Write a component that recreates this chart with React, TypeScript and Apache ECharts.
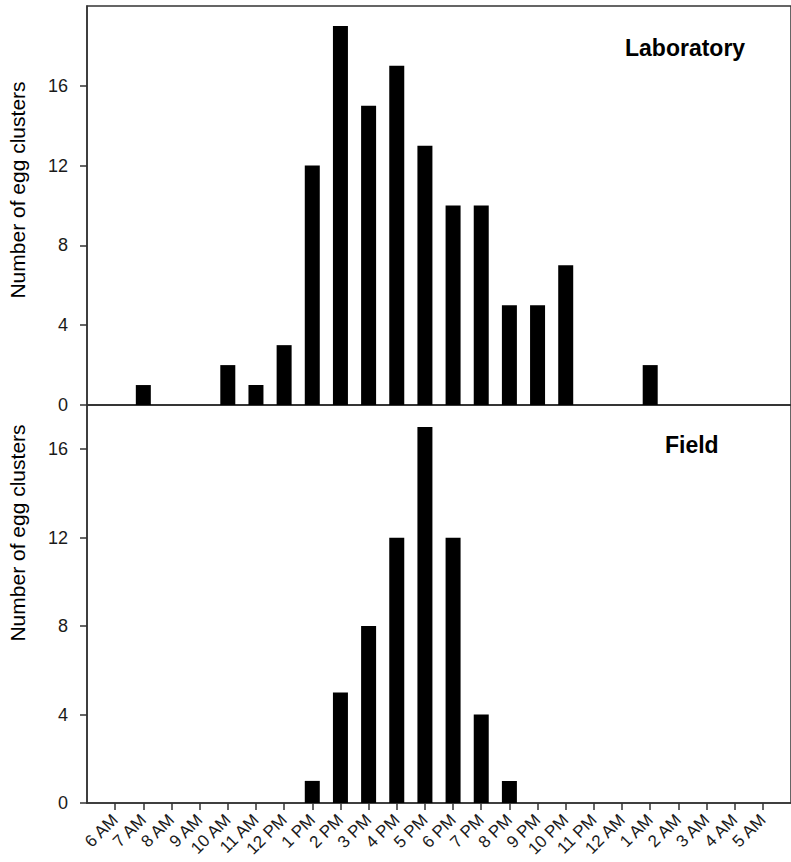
import React, { useEffect, useRef } from "react";
import * as echarts from "echarts";

const hours = [
  "6 AM", "7 AM", "8 AM", "9 AM", "10 AM", "11 AM", "12 PM", "1 PM", "2 PM", "3 PM",
  "4 PM", "5 PM", "6 PM", "7 PM", "8 PM", "9 PM", "10 PM", "11 PM", "12 AM", "1 AM",
  "2 AM", "3 AM", "4 AM", "5 AM",
];
const laboratory = [0, 1, 0, 0, 2, 1, 3, 12, 19, 15, 17, 13, 10, 10, 5, 5, 7, 0, 0, 2, 0, 0, 0, 0];
const field = [0, 0, 0, 0, 0, 0, 0, 1, 5, 8, 12, 17, 12, 4, 1, 0, 0, 0, 0, 0, 0, 0, 0, 0];
const yTicks = [0, 4, 8, 12, 16];
const yTitle = "Number of egg clusters";

const FONT = "'Liberation Sans', Arial, Helvetica, sans-serif";
const LINE = "#333333";
const TEXT = "#1a1a1a";

export default function App() {
  const ref = useRef<HTMLDivElement>(null);
  useEffect(() => {
    if (!ref.current) return;
    const chart = echarts.init(ref.current, undefined, { renderer: "svg" });
    const idx = hours.map((_, i) => i);
    const yAxisBase = (gridIndex: number, max: number) => ({
      type: "value",
      gridIndex,
      min: 0,
      max,
      interval: 4,
      axisLine: { show: true, onZero: false, lineStyle: { color: LINE, width: 1.5 } },
      axisTick: { show: true, length: 7, inside: false, customValues: yTicks, lineStyle: { color: LINE, width: 1.5 } },
      axisLabel: { customValues: yTicks, margin: 19, fontSize: 18, color: TEXT, fontFamily: FONT },
      splitLine: { show: false },
    });
    chart.setOption({
      animation: false,
      backgroundColor: "#ffffff",
      grid: [
        { left: 87, top: 6, height: 399, right: -10, show: true, borderColor: LINE, borderWidth: 1.5, backgroundColor: "transparent" },
        { left: 87, top: 405, height: 398, right: -10, show: true, borderColor: LINE, borderWidth: 1.5, backgroundColor: "transparent" },
      ],
      xAxis: [
        {
          type: "value", gridIndex: 0, min: -1, max: 24, interval: 1,
          axisLine: { show: true, onZero: false, lineStyle: { color: LINE, width: 1.5 } },
          axisTick: { show: false }, axisLabel: { show: false }, splitLine: { show: false },
        },
        {
          type: "value", gridIndex: 1, min: -1, max: 24, interval: 1,
          axisLine: { show: true, onZero: false, lineStyle: { color: LINE, width: 1.5 } },
          axisTick: { show: true, length: 7, customValues: idx, lineStyle: { color: LINE, width: 1.5 } },
          axisLabel: {
            customValues: idx,
            rotate: 45,
            margin: 14,
            fontSize: 17,
            color: TEXT,
            fontFamily: FONT,
            formatter: (v: number) => hours[Math.round(v)] ?? "",
          },
          splitLine: { show: false },
        },
      ],
      yAxis: [yAxisBase(0, 20), yAxisBase(1, 18)],
      series: [
        {
          type: "bar", xAxisIndex: 0, yAxisIndex: 0, barWidth: 15,
          itemStyle: { color: "#000000" },
          data: laboratory.map((v, i) => [i, v]),
        },
        {
          type: "bar", xAxisIndex: 1, yAxisIndex: 1, barWidth: 15,
          itemStyle: { color: "#000000" },
          data: field.map((v, i) => [i, v]),
        },
      ],
      graphic: [
        {
          type: "text", x: 625, y: 48,
          style: { text: "Laboratory", font: `bold 23px ${FONT}`, fill: "#000", textVerticalAlign: "middle", textAlign: "left" },
        },
        {
          type: "text", x: 665, y: 445,
          style: { text: "Field", font: `bold 23px ${FONT}`, fill: "#000", textVerticalAlign: "middle", textAlign: "left" },
        },
        {
          type: "text", x: 17, y: 190, rotation: Math.PI / 2,
          style: { text: yTitle, font: `21px ${FONT}`, fill: "#000", textAlign: "center", textVerticalAlign: "middle" },
        },
        {
          type: "text", x: 17, y: 533, rotation: Math.PI / 2,
          style: { text: yTitle, font: `21px ${FONT}`, fill: "#000", textAlign: "center", textVerticalAlign: "middle" },
        },
      ],
    });
    return () => chart.dispose();
  }, []);
  return <div ref={ref} style={{ position: "fixed", left: 0, top: 0, width: 791, height: 862 }} />;
}
